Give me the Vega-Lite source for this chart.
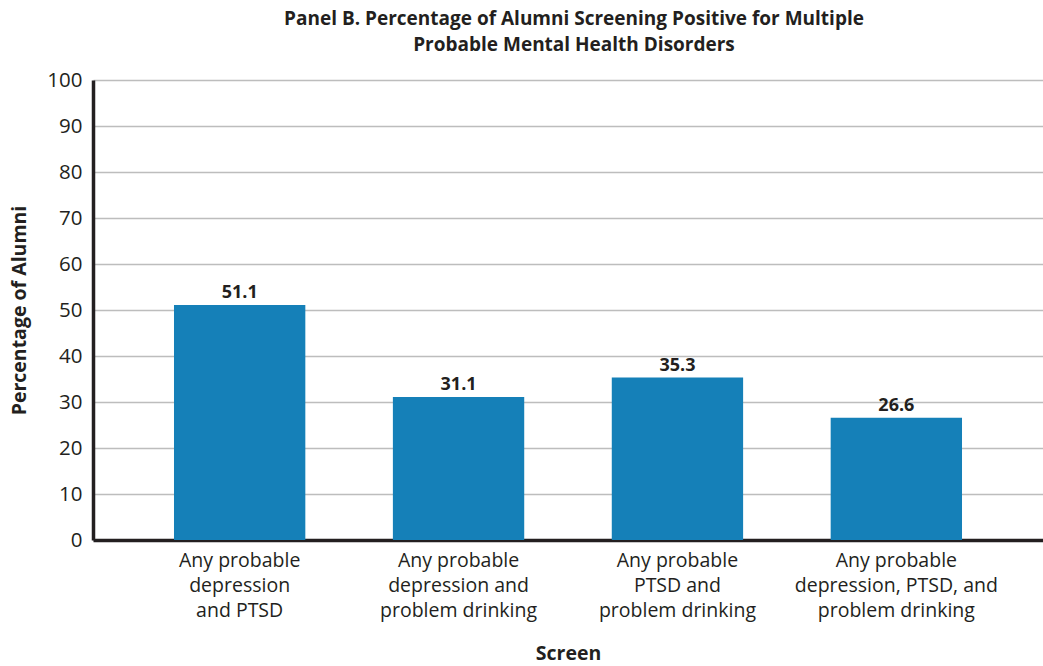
{
  "$schema": "https://vega.github.io/schema/vega-lite/v6.json",
  "autosize": "none",
  "width": 950,
  "height": 460,
  "padding": {"left": 93, "top": 80, "right": 0, "bottom": 126},
  "background": "white",
  "title": {
    "text": ["Panel B. Percentage of Alumni Screening Positive for Multiple", "Probable Mental Health Disorders"],
    "font": "Open Sans",
    "fontSize": 19,
    "fontWeight": "bold",
    "color": "#231f20",
    "lineHeight": 26,
    "anchor": "middle",
    "frame": "group",
    "dx": 6,
    "offset": 15
  },
  "data": {
    "values": [
      {"screen": "Any probable|depression|and PTSD", "order": 1, "pct": 51.1},
      {"screen": "Any probable|depression and|problem drinking", "order": 2, "pct": 31.1},
      {"screen": "Any probable|PTSD and|problem drinking", "order": 3, "pct": 35.3},
      {"screen": "Any probable|depression, PTSD, and|problem drinking", "order": 4, "pct": 26.6}
    ]
  },
  "config": {
    "view": {"stroke": null},
    "axis": {"labelFont": "Open Sans", "titleFont": "Open Sans", "labelColor": "#231f20", "titleColor": "#231f20"}
  },
  "encoding": {
    "x": {
      "field": "screen",
      "type": "nominal",
      "sort": {"field": "order"},
      "scale": {"paddingInner": 0.4, "paddingOuter": 0.37, "align": 0.5},
      "axis": {
        "title": "Screen",
        "titleFontSize": 19.5,
        "titleFontWeight": "bold",
        "titlePadding": 25,
        "labelAngle": 0,
        "labelFontSize": 19.5,
        "labelLineHeight": 25,
        "labelPadding": 11,
        "labelLimit": 0,
        "labelExpr": "split(datum.label, '|')",
        "ticks": false,
        "domainColor": "#231f20",
        "domainWidth": 3.5,
        "grid": false
      }
    },
    "y": {
      "field": "pct",
      "type": "quantitative",
      "scale": {"domain": [0, 100], "nice": false},
      "axis": {
        "title": "Percentage of Alumni",
        "titleFontSize": 19.5,
        "titleFontWeight": "bold",
        "titlePadding": 17,
        "values": [0, 10, 20, 30, 40, 50, 60, 70, 80, 90, 100],
        "labelFontSize": 20.5,
        "labelPadding": 11,
        "ticks": false,
        "domainColor": "#231f20",
        "domainWidth": 3.5,
        "grid": true,
        "gridColor": "#bdbdbd",
        "gridWidth": 1.5
      }
    }
  },
  "layer": [
    {"mark": {"type": "bar", "color": "#1580b8"}},
    {
      "mark": {"type": "text", "baseline": "bottom", "dy": -3, "font": "Open Sans", "fontSize": 18, "fontWeight": "bold", "color": "#231f20"},
      "encoding": {"text": {"field": "pct", "type": "quantitative", "format": ".1f"}}
    }
  ]
}
